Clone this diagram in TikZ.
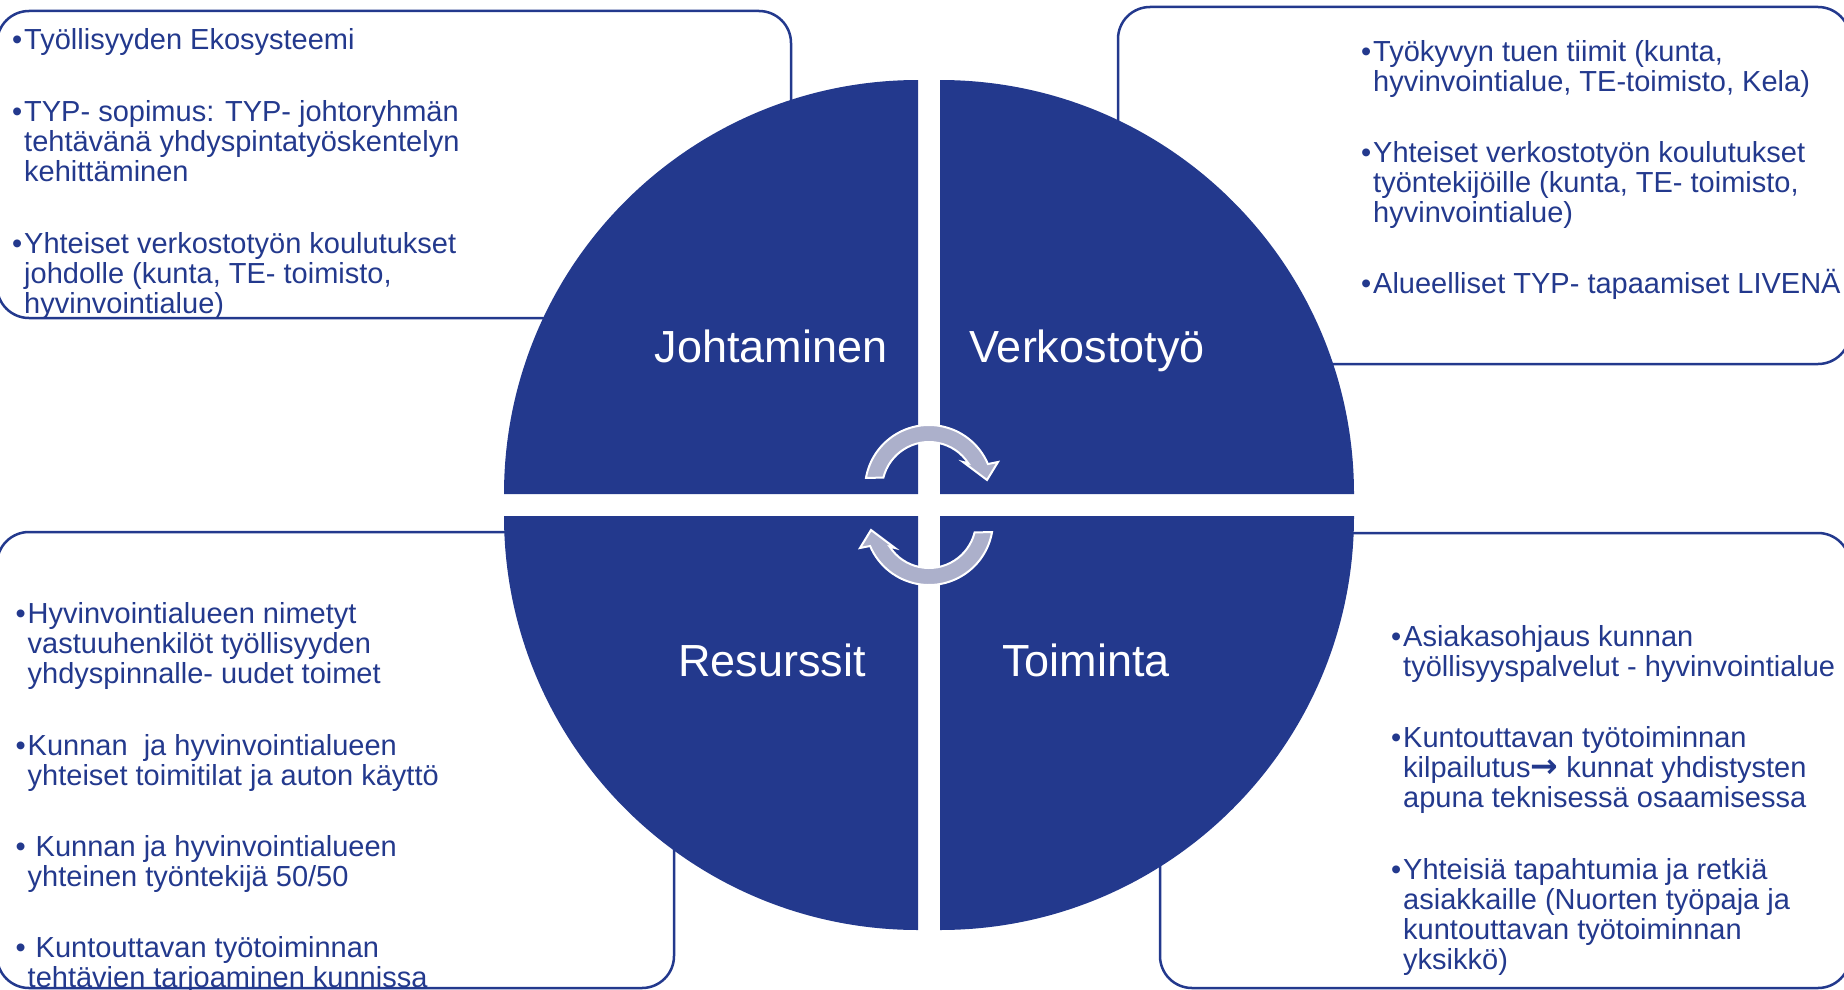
\documentclass[tikz,border=0pt]{standalone}
\usepackage{fontspec}
\setmainfont{Liberation Sans}
\newfontfamily\arrowfont{DejaVu Sans}
\usepackage{tikz}
\usetikzlibrary{calc}
\definecolor{quadblue}{RGB}{35,57,141}
\definecolor{cyclegray}{RGB}{172,176,203}
\tikzset{
  listbox/.style={draw=quadblue,line width=2.5pt,rounded corners=32pt},
  listtext/.style={text=quadblue,anchor=base west,inner sep=0pt,align=left,
    font=\fontsize{29}{30}\selectfont},
  quarter/.style={fill=quadblue},
  quarterlabel/.style={text=white,anchor=base,inner sep=0pt,
    font=\fontsize{45}{54}\selectfont},
  cyclearrow/.style={fill=cyclegray,draw=white,line width=2pt},
}
\newcommand\bul{\llap{\hbox to 12pt{\textbullet\hfil}}}

\begin{document}
\begin{tikzpicture}[x=1pt,y=1pt]
\useasboundingbox (0,0) rectangle (1844,-990);
% the four lists (nodes sit on the baseline of their last line)
\draw[listbox] (-3,-11) rectangle (791,-318);
\draw[listbox] (1118,-7) rectangle (1850,-364);
\draw[listbox] (-3,-532) rectangle (674,-988);
\draw[listbox] (1160,-533) rectangle (1850,-988);

\node[listtext] (johto1) at (24,-50) {\bul Työllisyyden Ekosysteemi};
\node[listtext] (johto2) at (24,-181) {\bul TYP- sopimus: TYP- johtoryhmän\\
  tehtävänä yhdyspintatyöskentelyn\\kehittäminen};
\node[listtext] (johto3) at (24,-313) {\bul Yhteiset verkostotyön koulutukset\\
  johdolle (kunta, TE- toimisto,\\hyvinvointialue)};

\node[listtext] (verkosto1) at (1373,-92) {\bul Työkyvyn tuen tiimit (kunta,\\
  hyvinvointialue, TE-toimisto, Kela)};
\node[listtext] (verkosto2) at (1373,-222) {\bul Yhteiset verkostotyön koulutukset\\
  työntekijöille (kunta, TE- toimisto,\\hyvinvointialue)};
\node[listtext] (verkosto3) at (1373,-293) {\bul Alueelliset TYP- tapaamiset LIVENÄ};

\node[listtext] (resurssi1) at (27.5,-683) {\bul Hyvinvointialueen nimetyt\\
  vastuuhenkilöt työllisyyden\\yhdyspinnalle- uudet toimet};
\node[listtext] (resurssi2) at (27.5,-785) {\bul Kunnan\ \ ja hyvinvointialueen\\
  yhteiset toimitilat ja auton käyttö};
\node[listtext] (resurssi3) at (27.5,-886) {\bul\ Kunnan ja hyvinvointialueen\\
  yhteinen työntekijä 50/50};
\node[listtext] (resurssi4) at (27.5,-987) {\bul\ Kuntouttavan työtoiminnan\\
  tehtävien tarjoaminen kunnissa};

\node[listtext] (toiminta1) at (1403,-676) {\bul Asiakasohjaus kunnan\\
  työllisyyspalvelut - hyvinvointialue};
\node[listtext] (toiminta2) at (1403,-807) {\bul Kuntouttavan työtoiminnan\\
  kilpailutus{\arrowfont\bfseries\fontsize{33}{30}\selectfont →} kunnat yhdistysten\\
  apuna teknisessä osaamisessa};
\node[listtext] (toiminta3) at (1403,-969) {\bul Yhteisiä tapahtumia ja retkiä\\
  asiakkaille (Nuorten työpaja ja\\kuntouttavan työtoiminnan\\yksikkö)};

% the cycle matrix
\fill[quarter] (918,-494) -- ++(-414,0) arc[start angle=180,end angle=90,radius=414] -- cycle;
\fill[quarter] (940,-494) -- ++(0,414) arc[start angle=90,end angle=0,radius=414] -- cycle;
\fill[quarter] (918,-516) -- ++(-414,0) arc[start angle=180,end angle=270,radius=414] -- cycle;
\fill[quarter] (940,-516) -- ++(414,0) arc[start angle=0,end angle=-90,radius=414] -- cycle;

\node[quarterlabel] (johtaminen) at (771,-362) {Johtaminen};
\node[quarterlabel] (verkostotyo) at (1087,-362) {Verkostotyö};
\node[quarterlabel] (resurssit) at (772,-676) {Resurssit};
\node[quarterlabel] (toiminta) at (1086,-676) {Toiminta};

% circular arrows
\begin{scope}[shift={(929,-489)}]
\filldraw[cyclearrow] (170:64) arc[start angle=170,end angle=23,radius=64]
  -- (69,27) -- (58,9) -- (34,27) -- (33:47)
  arc[start angle=33,end angle=166,radius=47] -- cycle;
\end{scope}
\begin{scope}[shift={(929,-521)},rotate=180]
\filldraw[cyclearrow] (170:64) arc[start angle=170,end angle=23,radius=64]
  -- (69,27) -- (58,9) -- (34,27) -- (33:47)
  arc[start angle=33,end angle=166,radius=47] -- cycle;
\end{scope}
\end{tikzpicture}
\end{document}
